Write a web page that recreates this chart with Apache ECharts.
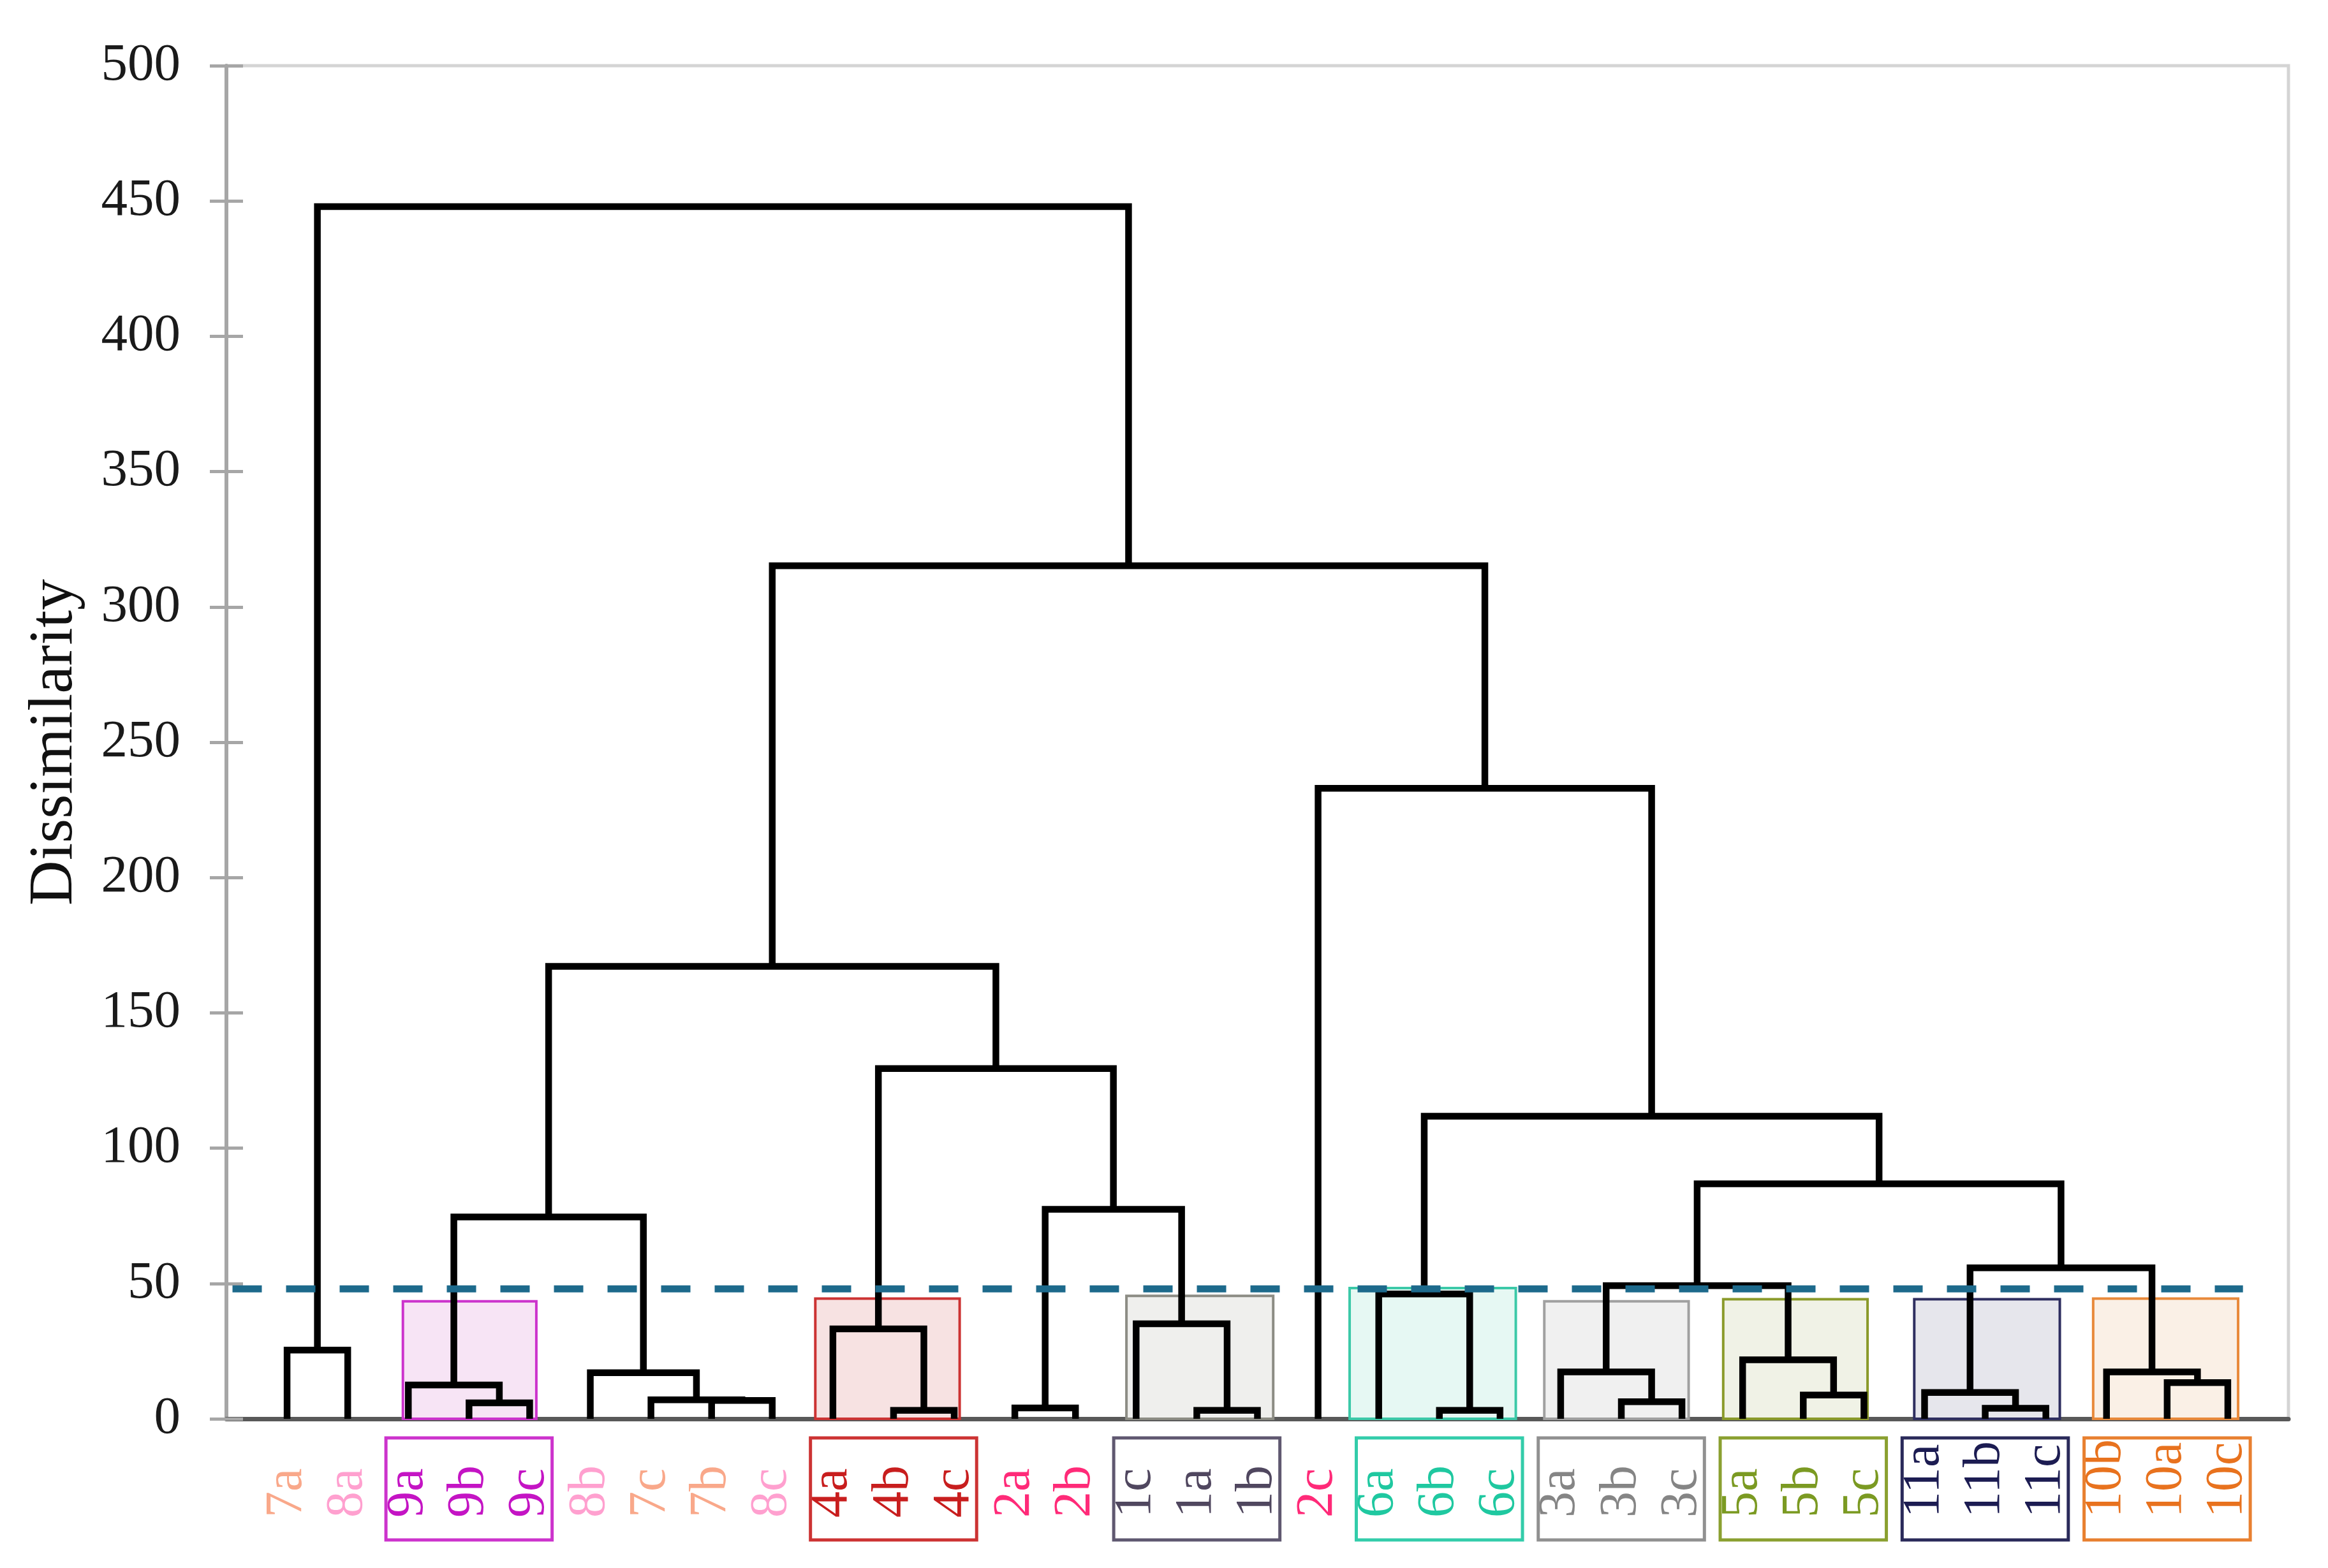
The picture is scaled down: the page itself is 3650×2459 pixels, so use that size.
<!DOCTYPE html>
<html><head><meta charset="utf-8">
<script src="https://cdn.jsdelivr.net/npm/echarts@6/dist/echarts.min.js"></script>
<style>html,body{margin:0;padding:0;background:#fff}#c{width:3650px;height:2459px}</style>
</head><body><div id="c"></div>
<script>
// ---- data ----
const leafLabels = ['7a','8a','9a','9b','9c','8b','7c','7b','8c','4a','4b','4c','2a','2b','1c','1a','1b','2c','6a','6b','6c','3a','3b','3c','5a','5b','5c','11a','11b','11c','10b','10a','10c'];
const groupIds    = ['1','2','3','4','5','6','7','8','9','10','11'];
const groupColors = ['#50475f','#ff2a78','#858585','#c81e1e','#7b9a22','#1fc8a0','#f9a88a','#ffa0cf','#c414c4','#e8721e','#1c1c52'];
// merges (leaves are nodes 0..32, merge k creates node 33+k)
const mergeA      = [3, 2, 0, 7, 6, 5, 34, 10, 9, 12, 15, 14, 42, 41, 39, 19, 18, 22, 21, 25, 24, 51, 28, 27, 31, 30, 56, 54, 49, 17, 47, 35];
const mergeB      = [4, 33, 1, 8, 36, 37, 38, 11, 40, 13, 16, 43, 44, 45, 46, 20, 48, 23, 50, 26, 52, 53, 29, 55, 32, 57, 58, 59, 60, 61, 62, 63];
const mergeHeight = [5.9, 12.5, 25.4, 6.8, 7.0, 17.0, 74.6, 3.1, 33.2, 4.0, 3.1, 35.1, 77.4, 129.4, 167.2, 3.1, 46.1, 6.3, 17.3, 8.8, 21.8, 49.2, 3.9, 9.7, 13.4, 17.3, 55.8, 86.8, 111.8, 233.0, 315.2, 447.9];
const yTickValues = [0, 50, 100, 150, 200, 250, 300, 350, 400, 450, 500];
const threshold   = 48;
const thresholdX  = [-0.9, 32.25];
// shaded cluster boxes (leaf-index units, dissimilarity top)
const clusterStart  = [1.91, 8.71, 13.84, 17.52, 20.73, 23.68, 26.83, 29.78];
const clusterEnd    = [4.11, 11.09, 16.26, 20.26, 23.11, 26.06, 29.23, 32.17];
const clusterTop    = [43.4, 44.4, 45.4, 48.3, 43.4, 44.2, 44.2, 44.4];
const clusterFill   = ['#f7e4f5','#f7e2e2','#efefed','#e6f8f3','#f0f0f0','#f0f2e6','#e6e6ec','#faf0e6'];
const clusterStroke = ['#cc33cc','#cc3333','#8c8c84','#3cc9a8','#a0a0a0','#8a9a2a','#2e2e60','#e8893a'];
// label boxes under the axis (centre leaf index)
const labelBoxCenter = [3, 10, 15, 19, 22, 25, 28, 31];
const labelBoxStroke = ['#cc33cc','#cc3333','#5f5870','#33ccaa','#909090','#8aa030','#2a2a5a','#e88030'];

// ---- build ----
function leafColor(lbl){ const g = String(parseInt(lbl, 10)); const k = groupIds.indexOf(g); return k >= 0 ? groupColors[k] : '#000'; }
const leafColors = leafLabels.map(leafColor);
const nodeX = leafLabels.map((_, i) => i);
const nodeH = leafLabels.map(() => 0);
const links = [];
for (let k = 0; k < mergeA.length; k++) {
  const a = mergeA[k], b = mergeB[k], h = mergeHeight[k];
  links.push({ coords: [[nodeX[a], nodeH[a]], [nodeX[a], h], [nodeX[b], h], [nodeX[b], nodeH[b]]] });
  nodeX.push((nodeX[a] + nodeX[b]) / 2);
  nodeH.push(h);
}
const serif = 'Liberation Serif';
const chart = echarts.init(document.getElementById('c'));
chart.setOption({
  animation: false,
  backgroundColor: '#fff',
  grid: { left: 355, right: 62, top: 103, bottom: 234, show: true, borderColor: '#d4d4d4', borderWidth: 5 },
  xAxis: {
    type: 'value', min: -1, max: 33, interval: 1,
    axisLine: { show: true, onZero: false, lineStyle: { color: '#595959', width: 7 } },
    axisTick: { show: false }, splitLine: { show: false },
    axisLabel: {
      rotate: 90, align: 'left', verticalAlign: 'middle', margin: 155,
      fontFamily: serif, fontSize: 82, showMinLabel: true, showMaxLabel: true,
      formatter: v => (leafLabels[v] !== undefined ? leafLabels[v] : ''),
      color: (val) => { const n = Number(val); if (!isNaN(n) && leafColors[n]) return leafColors[n]; const j = leafLabels.indexOf(val); return j >= 0 ? leafColors[j] : '#000'; }
    }
  },
  yAxis: [
    {
      type: 'value', min: 0, max: 500, interval: 50,
      name: 'Dissimilarity', nameLocation: 'middle', nameGap: 220,
      nameTextStyle: { fontFamily: serif, fontSize: 98, color: '#111' },
      axisLine: { show: true, onZero: false, lineStyle: { color: '#a6a6a6', width: 6 } },
      axisTick: { show: true, length: 26, lineStyle: { color: '#a6a6a6', width: 5 } },
      axisLabel: { margin: 72, fontFamily: serif, fontSize: 83, color: '#1a1a1a',
        formatter: v => (yTickValues.indexOf(v) >= 0 ? String(v) : '') },
      splitLine: { show: false }
    },
    {
      type: 'value', min: 0, max: 500, interval: 50, position: 'left',
      axisLine: { show: false, onZero: false },
      axisTick: { show: true, inside: true, length: 26, lineStyle: { color: '#a6a6a6', width: 5 } },
      axisLabel: { show: false }, splitLine: { show: false }
    }
  ],
  series: [
    {
      type: 'custom', z: 1, silent: true,
      data: clusterStart.map((s, i) => [s, clusterEnd[i], clusterTop[i]]),
      encode: { x: [0, 1], y: 2 },
      renderItem: (params, api) => {
        const i = params.dataIndex;
        const p0 = api.coord([clusterStart[i], clusterTop[i]]);
        const p1 = api.coord([clusterEnd[i], 0]);
        return { type: 'rect', shape: { x: p0[0], y: p0[1], width: p1[0] - p0[0], height: p1[1] - p0[1] },
          style: { fill: clusterFill[i], stroke: clusterStroke[i], lineWidth: 4 } };
      }
    },
    {
      type: 'custom', z: 1, silent: true, clip: false,
      data: labelBoxCenter.map(c => [c, 0]),
      encode: { x: 0, y: 1 },
      renderItem: (params, api) => {
        const i = params.dataIndex;
        const p0 = api.coord([labelBoxCenter[i] - 1.37, 0]);
        const p1 = api.coord([labelBoxCenter[i] + 1.37, 0]);
        return { type: 'rect', shape: { x: p0[0], y: p0[1] + 30, width: p1[0] - p0[0], height: 160 },
          style: { fill: 'none', stroke: labelBoxStroke[i], lineWidth: 5 } };
      }
    },
    {
      type: 'lines', coordinateSystem: 'cartesian2d', polyline: true, z: 3, silent: true,
      data: links,
      lineStyle: { color: '#000', width: 10.5, opacity: 1, join: 'miter' }
    },
    {
      type: 'line', z: 4, silent: true, symbol: 'none',
      data: [[thresholdX[0], threshold], [thresholdX[1], threshold]],
      lineStyle: { color: '#1d6a8c', width: 11, type: [46, 38] }
    }
  ]
});
</script></body></html>
